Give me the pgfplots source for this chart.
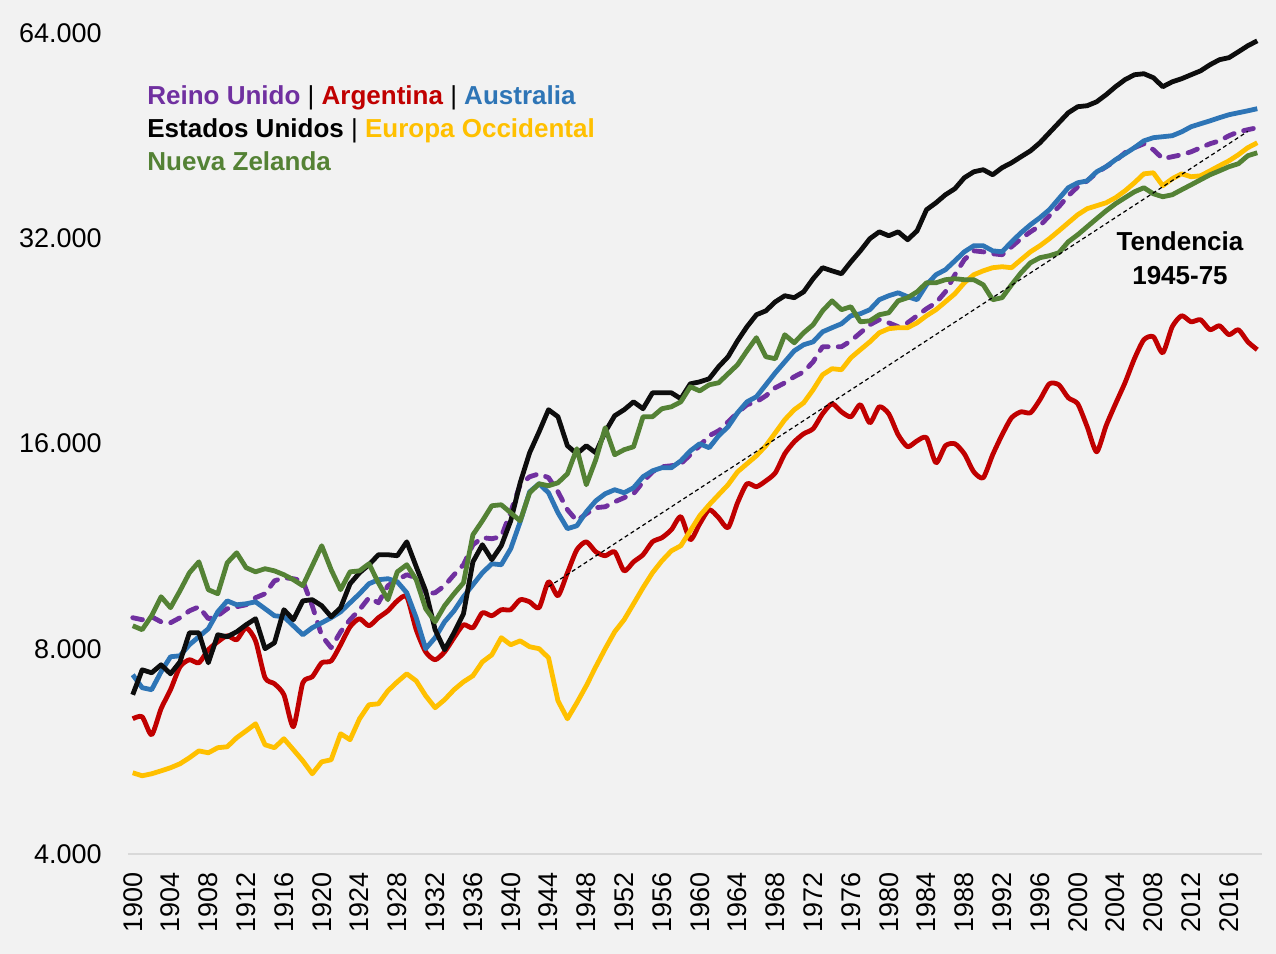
\documentclass[border=0pt]{standalone}
\usepackage{fontspec}
\setmainfont{Liberation Sans}
\usepackage{pgfplots}
\usepackage{pgfplotstable}
\pgfplotsset{compat=1.18}
\definecolor{bgc}{HTML}{F2F2F2}
\definecolor{ukc}{HTML}{7030A0}
\definecolor{argc}{HTML}{C00000}
\definecolor{ausc}{HTML}{2E75B6}
\definecolor{usac}{HTML}{0D0D0D}
\definecolor{weuc}{HTML}{FFC000}
\definecolor{nzc}{HTML}{548235}

\pgfplotstableread{
year uk arg aus usa weu nz
1900 8883 6315 7327 6848 5262 8645
1901 8823 6358 7013 7452 5209 8530
1902 8912 5983 6966 7376 5244 8942
1903 8760 6533 7400 7578 5296 9535
1904 8732 6966 7786 7351 5352 9188
1905 8883 7527 7812 7653 5424 9727
1906 9091 7708 8108 8442 5536 10338
1907 9218 7629 8330 8442 5666 10728
1908 8853 7973 8559 7629 5629 9764
1909 8942 8188 9061 8386 5727 9632
1910 9157 8358 9403 8330 5745 10694
1911 9218 8247 9280 8470 5923 11061
1912 9280 8588 9311 8674 6062 10517
1913 9504 8215 9372 8853 6209 10372
1914 9632 7254 9157 8000 5784 10481
1915 10061 7107 8942 8162 5727 10406
1916 10168 6848 8912 9126 5903 10270
1917 10133 6147 8645 8823 5688 10099
1918 10061 7131 8386 9403 5478 9896
1919 9249 7278 8588 9440 5244 10587
1920 8358 7629 8732 9249 5460 11327
1921 8027 7679 8883 8912 5499 10446
1922 8470 8108 9061 9188 6003 9764
1923 8823 8616 9342 9962 5884 10372
1924 9126 8853 9632 10338 6315 10406
1925 9504 8645 9962 10623 6621 10658
1926 9342 8883 10099 10988 6643 9995
1927 9896 9091 10133 10988 6939 9440
1928 10099 9403 10028 10951 7154 10372
1929 10270 9535 9664 11478 7351 10623
1930 10168 8530 8883 10552 7178 10099
1931 9632 7916 8000 9727 6825 9157
1932 9664 7708 8303 8530 6555 8760
1933 9896 7916 8760 7973 6734 9249
1934 10270 8303 9091 8442 6966 9632
1935 10623 8674 9535 9002 7154 9995
1936 11365 8588 9929 10728 7302 11755
1937 11639 9032 10338 11365 7653 12320
1938 11599 8942 10658 10805 7838 12965
1939 11677 9126 10623 11327 8303 13008
1940 12702 9126 11214 12320 8108 12661
1941 13917 9440 12280 14010 8215 12320
1942 14299 9372 13589 15504 8054 13546
1943 14443 9188 13964 16641 8000 13964
1944 14252 10028 13546 17931 7760 13871
1945 13589 9567 12661 17511 6709 14010
1946 12792 10338 11998 15877 6315 14443
1947 12320 11176 12118 15452 6665 15719
1948 12619 11478 12702 15877 7060 13917
1949 12879 11097 13181 15504 7527 15145
1950 12921 10951 13501 16641 8000 16874
1951 13137 11097 13686 17570 8470 15401
1952 13322 10406 13546 17931 8823 15666
1953 13501 10728 13779 18415 9311 15824
1954 14055 10988 14299 17992 9830 17511
1955 14538 11478 14586 18987 10338 17511
1956 14790 11639 14742 18987 10764 17992
1957 14840 11957 14742 18987 11133 18112
1958 14939 12493 15087 18610 11327 18415
1959 15401 11560 15605 19573 11911 19378
1960 15877 12200 15984 19702 12535 19111
1961 16423 12792 15772 19910 13008 19508
1962 16697 12452 16423 20732 13456 19639
1963 17213 12038 16929 21444 13917 20246
1964 17747 13095 17747 22627 14538 20872
1965 18234 13964 18415 23730 14939 21875
1966 18415 13824 18734 24711 15349 22867
1967 18797 14102 19508 25039 15877 21444
1968 19314 14491 20313 25814 16588 21302
1969 19639 15452 21079 26349 17336 23097
1970 20043 16089 21875 26175 17931 22479
1971 20379 16533 22330 26700 18356 23251
1972 21079 16817 22552 27910 19184 23890
1973 22181 17688 23326 28966 20178 25039
1974 22181 18295 23653 28661 20595 25899
1975 22181 17804 23970 28380 20525 25135
1976 22627 17511 24628 29547 21374 25389
1977 23251 18234 24793 30664 21959 24127
1978 23890 17157 25135 31946 22552 24207
1979 24300 18112 25998 32698 23251 24711
1980 24050 17688 26349 32268 23573 24876
1981 23730 16478 26614 32698 23653 25899
1982 24050 15824 26261 31838 23653 26175
1983 24628 16142 25998 32806 24050 26700
1984 25220 16314 27345 35233 24628 27528
1985 25731 14989 28285 36068 25135 27528
1986 26700 15877 28770 37059 25814 27815
1987 28285 15984 29645 37823 26526 27910
1988 29759 15452 30563 39254 27528 27815
1989 30664 14538 31197 40042 28285 27815
1990 30563 14252 31197 40329 28661 27345
1991 30363 15401 30664 39648 28966 25998
1992 30262 16478 30563 40603 29061 26175
1993 31092 17454 31612 41285 28966 27345
1994 31946 17804 32593 42135 29759 28474
1995 32698 17747 33489 42982 30563 29452
1996 33377 18547 34295 44170 31197 29961
1997 34523 19573 35233 45687 31946 30161
1998 35589 19508 36567 47255 32806 30464
1999 36935 18672 37951 48879 33712 31612
2000 38076 18295 38588 49886 34639 32376
2001 38841 16929 38841 50054 35353 33265
2002 39913 15554 40042 50720 35709 34179
2003 40736 16986 40736 51946 36068 35099
2004 41555 18295 41714 53372 36691 35948
2005 42703 19639 42561 54653 37551 36691
2006 43440 21302 43440 55577 38588 37427
2007 44023 22713 44459 55762 39780 37951
2008 43147 22943 44933 55025 39913 37183
2009 41855 21733 45080 53372 38204 36811
2010 42135 23730 45231 54265 39122 37059
2011 42419 24628 45834 54838 39780 37695
2012 42840 24127 46627 55577 39383 38332
2013 43440 24300 47098 56315 39515 38989
2014 44023 23493 47564 57485 40174 39648
2015 44459 23812 48072 58472 40873 40174
2016 45231 23097 48554 58870 41555 40736
2017 45834 23493 48879 60051 42419 41148
2018 46161 22552 49199 61296 43440 42277
2019 46475 21959 49555 62319 44170 42703
}\datatable

\begin{document}
\begin{tikzpicture}
\fill[bgc] (-64pt,-50pt) rectangle (574pt,427pt);
\useasboundingbox (-64pt,-50pt) rectangle (574pt,427pt);
\begin{axis}[
  at={(0pt,0pt)}, anchor=south west,
  scale only axis, width=567pt, height=410.5pt,
  xmin=1899.5, xmax=2019.5,
  ymode=log, log basis y=2,
  ymin=4000, ymax=64000,
  xtick={1900,1904,...,2016},
  ytick={4000,8000,16000,32000,64000},
  yticklabels={4.000,8.000,16.000,32.000,64.000},
  axis x line*=bottom,
  axis y line*=left,
  x axis line style={-, draw=black!15, line width=0.75pt},
  y axis line style={draw=none},
  major tick length=0pt,
  tick style={draw=none},
  xticklabel style={rotate=90, anchor=east, inner sep=0pt,
    font=\fontsize{13.5}{16}\selectfont,
    /pgf/number format/1000 sep={},
    /pgf/number format/assume math mode=true},
  yticklabel style={anchor=east, inner sep=0pt, font=\fontsize{13.5}{16}\selectfont},
  xticklabel shift=9pt,
  yticklabel shift=13pt,
  every axis plot/.append style={no marks, line width=2.4pt, line join=round},
]
\addplot[ukc, dash pattern=on 5pt off 5pt, line cap=round] table[x=year,y=uk]{\datatable};
\addplot[argc, smooth, tension=0.4] table[x=year,y=arg]{\datatable};
\addplot[ausc] table[x=year,y=aus]{\datatable};
\addplot[usac] table[x=year,y=usa]{\datatable};
\addplot[weuc] table[x=year,y=weu]{\datatable};
\addplot[nzc] table[x=year,y=nz]{\datatable};
\addplot[black, line width=0.6pt, dash pattern=on 2pt off 1.5pt] coordinates {(1944,9860) (2018,45900)};
\end{axis}
\begin{scope}[every node/.style={inner sep=0pt, font=\bfseries\fontsize{13}{15}\selectfont}]
\node[anchor=base west] at (9.5pt,374.5pt) {\textcolor{ukc}{Reino Unido} {\mdseries|} \textcolor{argc}{Argentina} {\mdseries|} \textcolor{ausc}{Australia}};
\node[anchor=base west] at (9.5pt,358pt) {\textcolor{black}{Estados Unidos} {\mdseries|} \textcolor{weuc}{Europa Occidental}};
\node[anchor=base west] at (9.5pt,341.5pt) {\textcolor{nzc}{Nueva Zelanda}};
\node[anchor=base] at (526pt,301.5pt) {Tendencia};
\node[anchor=base] at (526pt,284.5pt) {1945-75};
\end{scope}
\end{tikzpicture}
\end{document}
